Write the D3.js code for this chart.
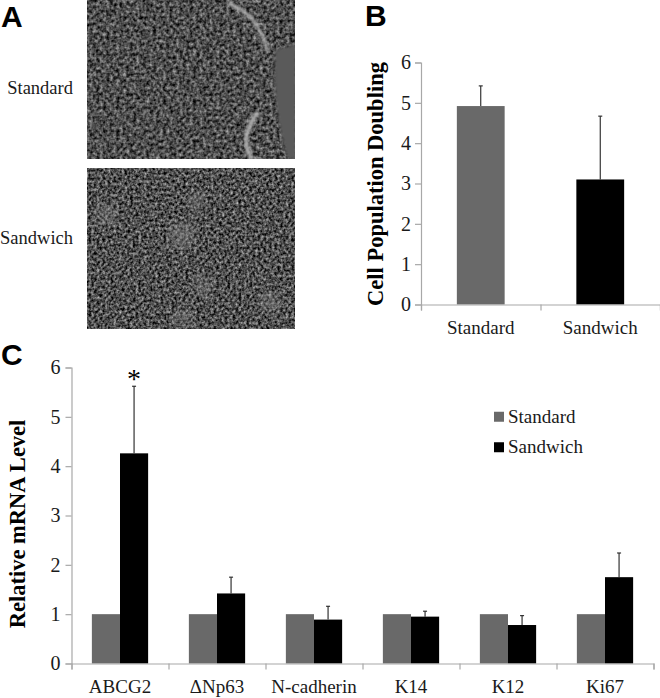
<!DOCTYPE html>
<html>
<head>
<meta charset="utf-8">
<script src="https://cdnjs.cloudflare.com/ajax/libs/d3/7.8.5/d3.min.js"></script>
<style>
    body { margin: 0; background: #fff; }
    text { font-family: "Liberation Serif", serif; fill: #1a1a1a; }
    .letter { font-family: "Liberation Sans", sans-serif; font-weight: bold; font-size: 30px; fill: #000; }
    .ytitle { font-weight: bold; fill: #000; }
</style>
</head>
<body>
<script>
// panel B
var doublingCats = ["Standard", "Sandwich"];
var doublingVals = [4.92, 3.1];
var doublingTops = [5.42, 4.67];

// panel C
var genes = ["ABCG2", "\u0394Np63", "N-cadherin", "K14", "K12", "Ki67"];
var standardVals = [1, 1, 1, 1, 1, 1];
var sandwichVals = [4.26, 1.42, 0.89, 0.95, 0.78, 1.75];
var sandwichTops = [5.62, 1.75, 1.16, 1.06, 0.97, 2.24];
var yTicks = [0, 1, 2, 3, 4, 5, 6];

var GREY = "#696969", BLACK = "#000", AXIS = "#a8a8a8";

const svg = d3.select("body")
    .append("svg")
    .attr("width", 660)
    .attr("height", 698);

// micrograph texture, there is no photo to load so use a turbulence filter
var defs = svg.append("defs");
function cellFilter(id, seed, freq, slope, shift) {
    var f = defs.append("filter").attr("id", id)
        .attr("color-interpolation-filters", "sRGB")
        .attr("x", 0).attr("y", 0).attr("width", 1).attr("height", 1);
    f.append("feTurbulence").attr("type", "fractalNoise")
        .attr("baseFrequency", freq).attr("numOctaves", 2).attr("seed", seed);
    var row = slope + " 0 0 0 " + shift + " ";
    f.append("feColorMatrix").attr("type", "matrix")
        .attr("values", row + row + row + "0 0 0 0 1");
    f.append("feGaussianBlur").attr("stdDeviation", 0.6);
}
cellFilter("cellsA", 4, 0.3, 0.95, -0.17);
cellFilter("cellsB", 9, 0.36, 1.1, -0.24);
defs.append("filter").attr("id", "soft").append("feGaussianBlur").attr("stdDeviation", 5);
defs.append("filter").attr("id", "soft2").append("feGaussianBlur").attr("stdDeviation", 1.8);
defs.append("clipPath").attr("id", "clipA").append("rect")
    .attr("x", 87).attr("y", 0).attr("width", 208).attr("height", 159);
defs.append("clipPath").attr("id", "clipB").append("rect")
    .attr("x", 87).attr("y", 168).attr("width", 208).attr("height", 161);

var photoA = svg.append("g").attr("clip-path", "url(#clipA)");
photoA.append("rect").attr("x", 87).attr("y", 0).attr("width", 208).attr("height", 159)
    .attr("filter", "url(#cellsA)");
// cell-free area and bright colony edge
photoA.append("path")
    .attr("d", "M275,50 L296,44 L296,159 L288,159 Q272,110 275,50 Z")
    .attr("fill", "#5a5a5a").attr("filter", "url(#soft2)");
photoA.append("path")
    .attr("d", "M228,3 Q240,8 252,18 Q262,32 268,52")
    .attr("fill", "none").attr("stroke", "#b4b4b4").attr("stroke-width", 3)
    .attr("filter", "url(#soft2)");
photoA.append("path")
    .attr("d", "M258,112 Q248,125 246,138 Q246,150 252,159")
    .attr("fill", "none").attr("stroke", "#b4b4b4").attr("stroke-width", 4)
    .attr("filter", "url(#soft2)");

var photoB = svg.append("g").attr("clip-path", "url(#clipB)");
photoB.append("rect").attr("x", 87).attr("y", 168).attr("width", 208).attr("height", 161)
    .attr("filter", "url(#cellsB)");
var hazeSpots = [[106, 215, 11], [182, 235, 14], [270, 302, 11], [203, 285, 10], [183, 318, 10], [196, 200, 9]];
photoB.selectAll("circle").data(hazeSpots).enter().append("circle")
    .attr("cx", function (d) { return d[0]; })
    .attr("cy", function (d) { return d[1]; })
    .attr("r", function (d) { return d[2]; })
    .attr("fill", "#8c8c8c").attr("fill-opacity", 0.4).attr("filter", "url(#soft)");

svg.append("text").attr("class", "letter").attr("x", 1).attr("y", 27).text("A");
svg.append("text").attr("class", "letter").attr("x", 365).attr("y", 26).text("B");
svg.append("text").attr("class", "letter").attr("x", 1).attr("y", 365).text("C");

svg.append("text").attr("x", 73).attr("y", 94).attr("text-anchor", "end")
    .style("font-size", "18.5px").text("Standard");
svg.append("text").attr("x", 73).attr("y", 244).attr("text-anchor", "end")
    .style("font-size", "18.5px").text("Sandwich");

function styleAxis(g, size) {
    g.selectAll("path, line").attr("stroke", AXIS).attr("stroke-width", 1.2);
    g.selectAll("text").style("font-size", size + "px")
        .style("font-family", "'Liberation Serif', serif").attr("fill", "#1a1a1a");
}

// ---- panel B
var xB = d3.scaleBand().domain(doublingCats).range([421, 660]).paddingInner(0.6).paddingOuter(0.3);
var yB = d3.scaleLinear().domain([0, 6]).range([304.5, 62.5]);

svg.append("g").selectAll("rect").data(doublingCats).enter().append("rect")
    .attr("x", function (d) { return xB(d); })
    .attr("width", xB.bandwidth())
    .attr("y", function (d, i) { return yB(doublingVals[i]); })
    .attr("height", function (d, i) { return yB(0) - yB(doublingVals[i]); })
    .attr("fill", function (d, i) { return i == 0 ? GREY : BLACK; });

drawErrors(doublingCats.map(function (d, i) {
    return { x: xB(d) + xB.bandwidth() / 2, lo: yB(doublingVals[i]), hi: yB(doublingTops[i]) };
}));

var axisB = svg.append("g").attr("transform", "translate(421,0)")
    .call(d3.axisLeft(yB).tickValues(yTicks).tickFormat(d3.format("d")).tickSize(6).tickPadding(4));
styleAxis(axisB, 20);

var baseB = svg.append("g").attr("transform", "translate(0,304.5)")
    .call(d3.axisBottom(d3.scaleLinear().domain([0, 2]).range([421, 660])).tickValues([0, 1, 2]).tickSize(6).tickFormat(""));
styleAxis(baseB, 19);

svg.selectAll(".catB").data(doublingCats).enter().append("text")
    .attr("class", "catB")
    .attr("x", function (d) { return xB(d) + xB.bandwidth() / 2; })
    .attr("y", 334)
    .attr("text-anchor", "middle")
    .style("font-size", "19px")
    .text(function (d) { return d; });

svg.append("text").attr("class", "ytitle")
    .attr("transform", "translate(383,184) rotate(-90)")
    .attr("text-anchor", "middle")
    .style("font-size", "22.5px")
    .text("Cell Population Doubling");

// ---- panel C
var xC = d3.scaleBand().domain(genes).range([71.5, 653.5]).paddingInner(0.42).paddingOuter(0.21);
var xSeries = d3.scaleBand().domain(["Standard", "Sandwich"]).range([0, xC.bandwidth()]);
var yC = d3.scaleLinear().domain([0, 6]).range([663.5, 367.5]);

function drawBars(vals, key, color) {
    svg.append("g").selectAll("rect").data(genes).enter().append("rect")
        .attr("x", function (d) { return xC(d) + xSeries(key); })
        .attr("width", xSeries.bandwidth())
        .attr("y", function (d, i) { return yC(vals[i]); })
        .attr("height", function (d, i) { return yC(0) - yC(vals[i]); })
        .attr("fill", color);
}
drawBars(standardVals, "Standard", GREY);
drawBars(sandwichVals, "Sandwich", BLACK);

drawErrors(genes.map(function (d, i) {
    return { x: xC(d) + xSeries("Sandwich") + xSeries.bandwidth() / 2, lo: yC(sandwichVals[i]), hi: yC(sandwichTops[i]) };
}));

var axisC = svg.append("g").attr("transform", "translate(71.5,0)")
    .call(d3.axisLeft(yC).tickValues(yTicks).tickFormat(d3.format("d")).tickSize(6).tickPadding(5));
styleAxis(axisC, 20);

var baseC = svg.append("g").attr("transform", "translate(0,663.5)")
    .call(d3.axisBottom(d3.scaleLinear().domain([0, 6]).range([71.5, 653.5])).tickValues(yTicks).tickSize(6).tickFormat(""));
styleAxis(baseC, 19);

svg.selectAll(".catC").data(genes).enter().append("text")
    .attr("class", "catC")
    .attr("x", function (d) { return xC(d) + xC.bandwidth() / 2; })
    .attr("y", 693)
    .attr("text-anchor", "middle")
    .style("font-size", "19px")
    .text(function (d) { return d; });

svg.append("text").attr("class", "ytitle")
    .attr("transform", "translate(25,524) rotate(-90)")
    .attr("text-anchor", "middle")
    .style("font-size", "22.5px")
    .text("Relative mRNA Level");

svg.append("text")
    .attr("x", xC(genes[0]) + xSeries("Sandwich") + xSeries.bandwidth() / 2)
    .attr("y", 388)
    .attr("text-anchor", "middle")
    .style("font-size", "28px").style("fill", "#000")
    .text("*");

// legend
var legendRow = d3.scaleBand().domain(xSeries.domain()).range([401.5, 462.5]);
xSeries.domain().forEach(function (name, i) {
    svg.append("rect")
        .attr("x", 494)
        .attr("y", legendRow(name) + legendRow.bandwidth() / 2 - 5)
        .attr("width", 10).attr("height", 10)
        .attr("fill", i == 0 ? GREY : BLACK);
    svg.append("text")
        .attr("x", 508)
        .attr("y", legendRow(name) + legendRow.bandwidth() / 2 + 6)
        .style("font-size", "19px")
        .text(name);
});

function drawErrors(list) {
    var g = svg.append("g").attr("stroke", "#222").attr("stroke-width", 1.1);
    list.forEach(function (e) {
        g.append("line").attr("x1", e.x).attr("x2", e.x).attr("y1", e.lo).attr("y2", e.hi);
        g.append("line").attr("x1", e.x - 2).attr("x2", e.x + 2).attr("y1", e.hi).attr("y2", e.hi);
    });
}
</script>
</body>
</html>
